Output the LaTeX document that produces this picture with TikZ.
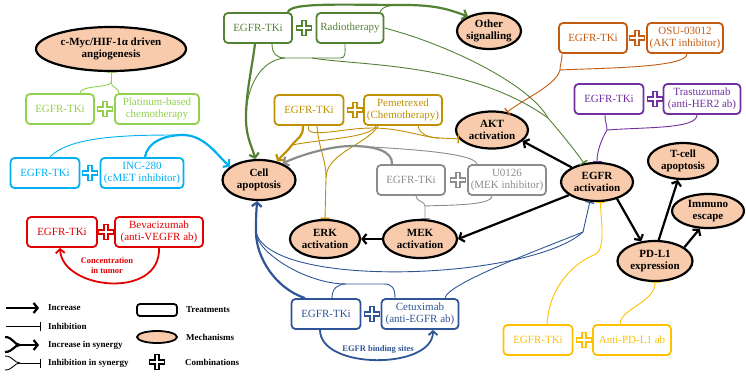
\documentclass[tikz,border=0pt]{standalone}
\usepackage{fontspec}
\setmainfont{Liberation Serif}
\usetikzlibrary{arrows.meta,shapes.geometric,positioning}
\definecolor{lgr}{HTML}{92D050}
\definecolor{dgr}{HTML}{548235}
\definecolor{org}{HTML}{C55A11}
\definecolor{pur}{HTML}{7030A0}
\definecolor{olv}{HTML}{BF9000}
\definecolor{cyn}{HTML}{00B0F0}
\definecolor{rdd}{HTML}{E00000}
\definecolor{gry}{HTML}{8C8C8C}
\definecolor{blu}{HTML}{2F5597}
\definecolor{ylw}{HTML}{FFC000}
\definecolor{peach}{HTML}{F8CBAD}

\begin{document}
\begin{tikzpicture}[
  x=1pt, y=-1pt,
  trt/.style={draw=#1, text=#1, rounded corners=4pt, line width=1.8pt,
    minimum height=30pt, align=center, inner sep=2pt,
    font=\fontsize{11}{12}\selectfont},
  mech/.style={ellipse, draw, fill=peach, line width=2.2pt, align=center,
    inner sep=0pt, font=\fontsize{11}{12.5}\selectfont\bfseries},
  inc/.style={line width=2.2pt, -{Straight Barb[length=4pt,width=10pt]}},
  inh/.style={line width=0.9pt, -{Bar[width=9pt,line width=1.3pt]}},
  thn/.style={line width=0.9pt},
  thk/.style={line width=2.2pt},
  lgd/.style={font=\fontsize{9}{10}\selectfont\bfseries, anchor=west, inner sep=0pt},
  pics/pls/.style={code={
    \draw[line width=6pt, #1] (-8,0) -- (8,0) (0,-8) -- (0,8);
    \draw[line width=2.6pt, white] (-6.7,0) -- (6.7,0) (0,-6.7) -- (0,6.7);
  }}
]
  \useasboundingbox (0,0) rectangle (746,375);

  \node[mech, minimum width=150pt, minimum height=44pt] (ang) at (111,49) {c-Myc/HIF-1α driven\\angiogenesis};
  \node[mech, minimum width=58pt, minimum height=36pt] (oth) at (489,31) {Other\\signalling};
  \node[mech, minimum width=72pt, minimum height=37pt] (akt) at (492,130) {AKT\\activation};
  \node[mech, minimum width=73pt, minimum height=40pt] (apo) at (259,180) {Cell\\apoptosis};
  \node[mech, minimum width=72pt, minimum height=38pt] (egfr) at (597,182) {EGFR\\activation};
  \node[mech, minimum width=70pt, minimum height=36pt] (tcl) at (683,161) {T-cell\\apoptosis};
  \node[mech, minimum width=72pt, minimum height=34pt] (imm) at (708,211) {Immuno\\escape};
  \node[mech, minimum width=75pt, minimum height=40pt] (pdl) at (655,261) {PD-L1\\expression};
  \node[mech, minimum width=70pt, minimum height=38pt] (erk) at (325,239) {ERK\\activation};
  \node[mech, minimum width=74pt, minimum height=38pt] (mek) at (420,239) {MEK\\activation};

  \node[trt=lgr, minimum width=68pt] (lgT) at (60,109) {EGFR-TKi};
  \node[trt=lgr, minimum width=84pt] (lgP) at (157,109) {Platinum-based\\chemotherapy};
  \node[trt=dgr, minimum width=68pt] (dgT) at (258,28) {EGFR-TKi};
  \node[trt=dgr, minimum width=67pt] (dgR) at (350,28) {Radiotherapy};
  \node[trt=org, minimum width=68pt] (orT) at (593,38) {EGFR-TKi};
  \node[trt=org, minimum width=76pt] (orO) at (685,38) {OSU-03012\\(AKT inhibitor)};
  \node[trt=pur, minimum width=69pt] (puT) at (609,99) {EGFR-TKi};
  \node[trt=pur, minimum width=77pt] (puR) at (702,99) {Trastuzumab\\(anti-HER2 ab)};
  \node[trt=olv, minimum width=69pt] (olT) at (309,110) {EGFR-TKi};
  \node[trt=olv, minimum width=78pt] (olP) at (403,110) {Pemetrexed\\(Chemotherapy)};
  \node[trt=cyn, minimum width=69pt] (cyT) at (45,173) {EGFR-TKi};
  \node[trt=cyn, minimum width=83pt] (cyI) at (142,173) {INC-280\\(cMET inhibitor)};
  \node[trt=rdd, minimum width=70pt] (rdT) at (62,232) {EGFR-TKi};
  \node[trt=rdd, minimum width=88pt] (rdB) at (159,232) {Bevacizumab\\(anti-VEGFR ab)};
  \node[trt=gry, minimum width=68pt] (grT) at (411,180) {EGFR-TKi};
  \node[trt=gry, minimum width=78pt] (grU) at (507,180) {U0126\\(MEK inhibitor)};
  \node[trt=blu, minimum width=69pt] (blT) at (326,314) {EGFR-TKi};
  \node[trt=blu, minimum width=77pt] (blC) at (420,314) {Cetuximab\\(anti-EGFR ab)};
  \node[trt=ylw, minimum width=69pt] (ylT) at (538,340) {EGFR-TKi};
  \node[trt=ylw, minimum width=78pt] (ylA) at (632,340) {Anti-PD-L1 ab};

  \pic at (105,109) {pls=lgr};
  \pic at (304,28) {pls=dgr};
  \pic at (637,38) {pls=org};
  \pic at (655,99) {pls=pur};
  \pic at (355,110) {pls=olv};
  \pic at (90,173) {pls=cyn};
  \pic at (106,232) {pls=rdd};
  \pic at (458,180) {pls=gry};
  \pic at (372,314) {pls=blu};
  \pic at (584,340) {pls=ylw};

  \coordinate (lgm) at (111,82);
  \draw[thn, lgr] ([xshift=20pt]lgT.north) .. controls +(0,-8) and +(0,6) .. (lgm);
  \draw[thn, lgr] ([xshift=-38pt]lgP.north) .. controls +(0,-6) and +(0,6) .. (lgm);
  \draw[inh, lgr] (lgm) -- (ang.south);

  \coordinate (dgm) at (405,5);
  \draw[inc, dgr] ([xshift=30pt]dgT.north) .. controls +(2,-10) and +(-60,0) .. (dgm)
    .. controls +(35,0) and +(-15,-5) .. (oth.145);
  \draw[thn, dgr] ([xshift=30pt]dgR.north) .. controls +(3,-7) and +(-12,0) .. (dgm);
  \coordinate (dga) at (246,118);
  \draw[inc, dgr] ([xshift=-3pt]dgT.south) .. controls +(-4,30) and +(0,-25) .. (dga)
    .. controls +(0,20) and +(-3,-12) .. (apo.100);
  \coordinate (dgu) at (285,58);
  \coordinate (dgv) at (340,58);
  \coordinate (dgw) at (312,58);
  \draw[thn, dgr] ([xshift=14pt]dgT.south) .. controls +(0,10) and +(-8,0) .. (dgu) -- (dgv)
    .. controls +(6,0) and +(0,10) .. ([xshift=-5pt]dgR.south);
  \draw[thn, dgr] (dgu) .. controls +(-25,2) and +(0,-30) .. (dga);
  \coordinate (dge) at (548,118);
  \draw[thn, dgr] (dgw) .. controls (360,66) and (470,62) .. (dge);
  \draw[thn, dgr] (dgR.east) .. controls (450,45) and (530,85) .. (dge);
  \draw[inh, dgr] (dge) .. controls +(12,14) and +(-8,-12) .. (egfr.125);

  \coordinate (orm) at (560,70);
  \draw[thn, org] ([xshift=-31pt]orT.south) .. controls +(0,8) and +(0,-6) .. (orm);
  \draw[thn, org] ([xshift=2pt]orO.south) .. controls +(0,14) and +(40,-2) .. (orm);
  \draw[inh, org] (orm) .. controls +(-4,15) and +(20,-15) .. (akt.50);

  \coordinate (pum) at (607,130);
  \draw[thn, pur] ([xshift=-4pt]puT.south) .. controls +(0,8) and +(0,-6) .. (pum);
  \draw[thn, pur] ([xshift=-5pt]puR.south) .. controls +(0,14) and +(40,-3) .. (pum);
  \draw[inh, pur] (pum) .. controls +(-6,10) and +(0,-10) .. (egfr.north);

  \coordinate (olm) at (292,145);
  \draw[inc, olv] ([xshift=-6pt]olT.south) .. controls +(0,12) and +(6,-8) .. (olm)
    .. controls +(-6,8) and +(4,-6) .. (apo.45);
  \draw[thn, olv] ([xshift=-27pt]olP.south) .. controls +(-5,12) and +(30,-6) .. (olm);
  \coordinate (olk) at (326,178);
  \draw[inh, olv] ([xshift=8pt]olT.south) .. controls +(2,25) and +(0,-20) .. (olk) -- (erk.north);
  \draw[thn, olv] ([xshift=-25pt]olP.south) .. controls +(-10,18) and +(0,-25) .. (olk);
  \coordinate (olq) at (372,128);
  \coordinate (olr) at (440,138);
  \draw[inh, olv] (olT.south) .. controls +(-6,14) and +(-30,0) .. (olq)
    .. controls +(30,0) and +(-15,0) .. (olr) -- (akt.195);
  \draw[thn, olv] ([xshift=15pt]olP.south) .. controls +(2,10) and +(-8,0) .. (olr);

  \coordinate (grm) at (352,146);
  \draw[inc, gry] ([xshift=-19pt]grT.north) .. controls +(1,-14) and +(20,0) .. (grm)
    .. controls +(-25,0) and +(12,-6) .. (apo.35);
  \draw[thn, gry] ([xshift=-30pt]grU.north) .. controls +(-2,-12) and +(40,2) .. (grm);
  \coordinate (grk) at (425,206);
  \draw[inh, gry] ([xshift=5pt]grT.south) .. controls +(0,6) and +(0,-5) .. (grk) -- ([xshift=5pt]mek.north);
  \draw[thn, gry] ([xshift=-15pt]grU.south) .. controls +(0,10) and +(20,-1) .. (grk);

  \coordinate (cym) at (183,135);
  \draw[inc, cyn] ([xshift=3pt]cyI.north) .. controls +(2,-14) and +(-20,0) .. (cym)
    .. controls +(22,0) and +(-12,-10) .. (apo.155);
  \draw[thn, cyn] ([xshift=5pt]cyT.north) .. controls +(20,-22) and +(-50,0) .. (cym);

  \draw[rdd, line width=1.8pt, -{Straight Barb[length=4pt,width=9pt]}] (rdB.south)
    .. controls +(2,52) and +(2,42) .. ([xshift=-2pt]rdT.south);
  \node[font=\fontsize{8.5}{10}\selectfont\bfseries, text=rdd, align=center] (rdN) at (107,266) {Concentration\\in tumor};

  \coordinate (blm) at (256,232);
  \draw[inc, blu] ([xshift=-21pt]blT.north) .. controls +(-30,-10) and +(0,25) .. (blm)
    .. controls +(0,-15) and +(-1,12) .. (apo.265);
  \coordinate (bla) at (346,284);
  \coordinate (blb) at (384,284);
  \draw[thn, blu] ([xshift=6pt]blT.north) .. controls +(0,-10) and +(-8,0) .. (bla) -- (blb)
    .. controls +(8,0) and +(0,-10) .. ([xshift=-25pt]blC.north);
  \draw[thn, blu] (bla) .. controls +(-40,0) and +(0,20) .. (blm);
  \coordinate (ble) at (583,232);
  \draw[thn, blu] (blm) .. controls (270,290) and (530,280) .. (ble);
  \draw[thn, blu] ([xshift=25pt]blC.north) .. controls +(2,-14) and +(-50,20) .. (ble);
  \draw[inh, blu] (ble) -- (egfr.250);
  \draw[blu, line width=1.8pt, -{Straight Barb[length=4pt,width=9pt]}] ([xshift=-6pt]blT.south)
    .. controls +(0,40) and +(0,40) .. ([xshift=13pt]blC.south);
  \node[font=\fontsize{8.5}{10}\selectfont\bfseries, text=blu] (blN) at (378,349) {EGFR binding sites};

  \coordinate (ylm) at (596,254);
  \draw[inh, ylw] ([xshift=9pt]ylT.north) .. controls +(2,-35) and +(-25,10) .. (ylm)
    .. controls +(10,-6) and +(0,15) .. (egfr.280);
  \draw[inh, ylw] ([xshift=-12pt]ylA.north) .. controls +(0,-15) and +(0,20) .. (pdl.south);

  \draw[inc] (egfr.150) -- (akt.340);
  \draw[inc] (egfr.205) -- (mek.east);
  \draw[inc] (mek.west) -- (erk.east);
  \draw[inc] (egfr.320) -- (pdl.125);
  \draw[inc] (pdl.80) -- (tcl.255);
  \draw[inc] (pdl.25) -- (imm.245);

  \node[lgd] (lInc) at (48,308) {Increase};
  \node[lgd] (lInh) at (48,326) {Inhibition};
  \node[lgd] (lIsy) at (48,345) {Increase in synergy};
  \node[lgd] (lHsy) at (48,363) {Inhibition in synergy};
  \draw[inc] ([xshift=-42pt]lInc.west) -- ([xshift=-9pt]lInc.west);
  \draw[inh] ([xshift=-42pt]lInh.west) -- ([xshift=-7pt]lInh.west);
  \coordinate (lIsyM) at ([xshift=-28pt]lIsy.west);
  \draw[thk] ([xshift=-43pt,yshift=8pt]lIsy.west) .. controls +(8,0) and +(-6,0) .. (lIsyM);
  \draw[thk] ([xshift=-43pt,yshift=-7pt]lIsy.west) .. controls +(8,0) and +(-6,0) .. (lIsyM);
  \draw[inc] (lIsyM) -- ([xshift=-9pt]lIsy.west);
  \coordinate (lHsyM) at ([xshift=-28pt]lHsy.west);
  \draw[thn] ([xshift=-43pt,yshift=7pt]lHsy.west) .. controls +(8,0) and +(-6,0) .. (lHsyM);
  \draw[thn] ([xshift=-43pt,yshift=-7pt]lHsy.west) .. controls +(8,0) and +(-6,0) .. (lHsyM);
  \draw[inh] (lHsyM) -- ([xshift=-7pt]lHsy.west);

  \node[draw, line width=1.8pt, rounded corners=3pt, minimum width=40pt, minimum height=12pt, inner sep=0pt] (lTrt) at (157,310) {};
  \node[lgd, right=8pt of lTrt] (lTrtL) {Treatments};
  \node[ellipse, draw, fill=peach, line width=1.8pt, minimum width=40pt, minimum height=12pt, inner sep=0pt] (lMec) at (157,337) {};
  \node[lgd, right=8pt of lMec] (lMecL) {Mechanisms};
  \pic at (157,362) {pls=black};
  \node[lgd] (lCmbL) at (185,362) {Combinations};
\end{tikzpicture}
\end{document}
